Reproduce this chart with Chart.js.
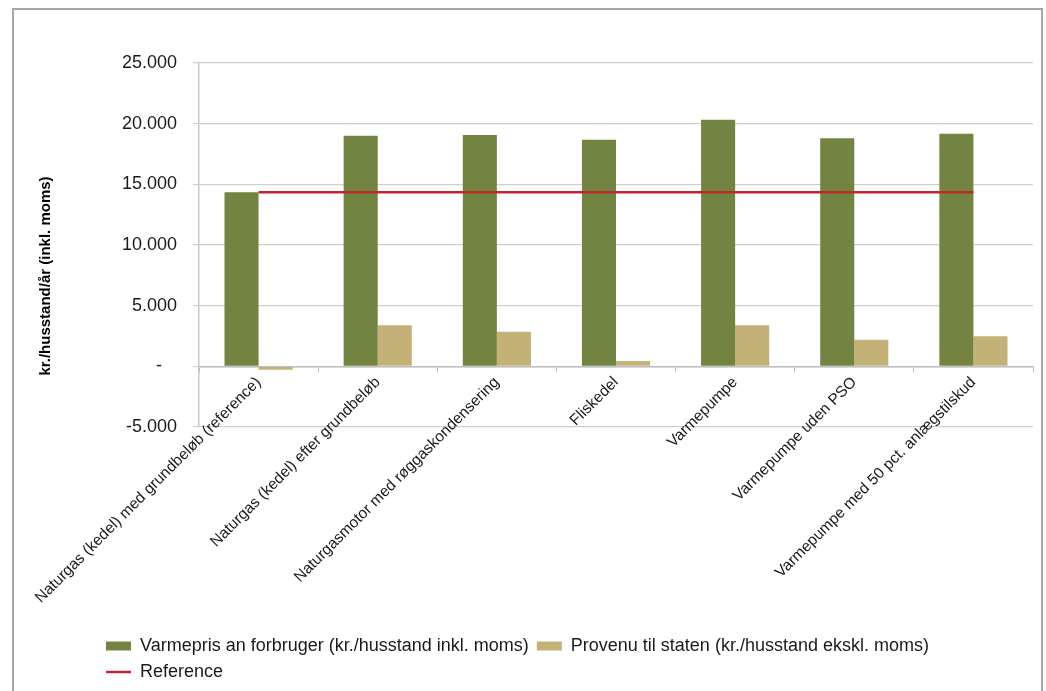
<!DOCTYPE html>
<html>
<head>
<meta charset="utf-8">
<title>Varmepris og provenu</title>
<script src="https://cdn.jsdelivr.net/npm/chart.js"></script>
<style>
    html, body { margin: 0; padding: 0; background: #fff; }
    #wrap { position: absolute; left: 0; top: 0; width: 1046px; height: 691px; }
    #frame {
        position: absolute; left: 12px; top: 8px; width: 1027px; height: 720px;
        border: 2px solid #a6a6a6; pointer-events: none;
    }
</style>
</head>
<body>
<div id="wrap"><canvas id="chart"></canvas></div>
<div id="frame"></div>
<script>
// Chart data
const categories = [
    'Naturgas (kedel) med grundbeløb (reference)',
    'Naturgas (kedel) efter grundbeløb',
    'Naturgasmotor med røggaskondensering',
    'Fliskedel',
    'Varmepumpe',
    'Varmepumpe uden PSO',
    'Varmepumpe med 50 pct. anlægstilskud'
];
const varmepris = [14350, 19000, 19060, 18670, 20320, 18800, 19160];
const provenu = [-280, 3390, 2840, 440, 3390, 2200, 2480];
const referenceLine = [14350, 14350, 14350, 14350, 14350, 14350, 14350];

const seriesNames = [
    'Varmepris an forbruger (kr./husstand inkl. moms)',
    'Provenu til staten (kr./husstand ekskl. moms)',
    'Reference'
];
const yAxisTitle = 'kr./husstand/år (inkl. moms)';

const FONT = '"Liberation Sans", Arial, sans-serif';

// Danish number format: 25.000, -5.000 and "-" for zero
function formatTick(value) {
    if (value === 0) return '-   ';
    const txt = Math.abs(value).toString().replace(/\B(?=(\d{3})+(?!\d))/g, '.');
    return (value < 0 ? '-' : '') + txt;
}

// Legend: rectangles for bars, a short line for the reference
function legendLabels(chart) {
    const items = Chart.defaults.plugins.legend.labels.generateLabels(chart);
    return items.map(item => {
        const isLine = chart.data.datasets[item.datasetIndex].type === 'line';
        item.pointStyle = isLine ? 'line' : 'rect';
        item.lineWidth = isLine ? 2.5 : 0;
        if (isLine) item.strokeStyle = '#c0272d';
        return item;
    });
}

// Vertical axis title, placed like the Excel original (a bit below the axis middle)
const axisTitlePlugin = {
    id: 'axisTitle',
    afterDraw(chart) {
        const c = chart.ctx;
        c.save();
        c.translate(46, 276);
        c.rotate(-Math.PI / 2);
        c.font = 'bold 15px ' + FONT;
        c.fillStyle = '#000';
        c.textAlign = 'center';
        c.textBaseline = 'middle';
        c.fillText(yAxisTitle, 0, 0);
        c.restore();
    }
};

const ctx = document.getElementById('chart').getContext('2d');
new Chart(ctx, {
    data: {
        labels: categories,
        datasets: [
            {
                type: 'bar',
                label: seriesNames[0],
                data: varmepris,
                backgroundColor: '#738442',
                xAxisID: 'x',
                barPercentage: 1,
                categoryPercentage: 0.572
            },
            {
                type: 'bar',
                label: seriesNames[1],
                data: provenu,
                backgroundColor: '#c4b178',
                xAxisID: 'x',
                barPercentage: 1,
                categoryPercentage: 0.572
            },
            {
                type: 'line',
                label: seriesNames[2],
                data: referenceLine,
                borderColor: '#c0272d',
                backgroundColor: '#c0272d',
                borderWidth: 2.5,
                pointRadius: 0,
                xAxisID: 'x',
                order: -1
            }
        ]
    },
    plugins: [axisTitlePlugin],
    options: {
        responsive: true,
        maintainAspectRatio: false,
        animation: false,
        layout: { padding: { left: 98, right: 13, top: 63, bottom: 0 } },
        plugins: {
            tooltip: { enabled: false },
            legend: {
                position: 'bottom',
                align: 'start',
                labels: {
                    font: { family: FONT, size: 18 },
                    color: '#1a1a1a',
                    usePointStyle: true,
                    pointStyleWidth: 25,
                    boxHeight: 9,
                    padding: 8,
                    generateLabels: legendLabels,
                    sort: (a, b) => a.datasetIndex - b.datasetIndex
                }
            }
        },
        scales: {
            x: {
                type: 'category',
                position: { y: 0 },
                offset: true,
                grid: {
                    display: true,
                    drawOnChartArea: false,
                    drawTicks: true,
                    tickLength: 5,
                    offset: true,
                    color: '#bfbfbf'
                },
                border: { display: true, color: '#bfbfbf', width: 1.5 },
                ticks: {
                    autoSkip: false,
                    minRotation: 45,
                    maxRotation: 45,
                    padding: 2,
                    color: '#1a1a1a',
                    font: { family: FONT, size: 15.5 }
                }
            },
            // empty axis that only keeps room for the rotated labels above the legend
            x2: {
                type: 'category',
                labels: categories,
                position: 'bottom',
                grid: { display: false },
                border: { display: false },
                ticks: { display: false },
                afterFit: scale => { scale.height = 202; }
            },
            y: {
                position: 'left',
                min: -5000,
                max: 25000,
                ticks: {
                    stepSize: 5000,
                    padding: 16,
                    color: '#1a1a1a',
                    font: { family: FONT, size: 18 },
                    callback: value => formatTick(value)
                },
                grid: { color: '#cfcfcf', lineWidth: 1.2, tickLength: 6 },
                border: { display: true, color: '#c8c8c8', width: 1.5 },
                afterFit: scale => { scale.width = 101; }
            }
        }
    }
});
</script>
</body>
</html>
